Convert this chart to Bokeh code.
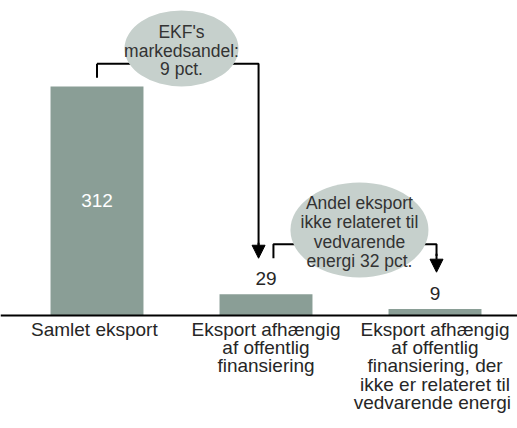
from bokeh.plotting import figure
from bokeh.models import Range1d, Span, Arrow, NormalHead, ColumnDataSource
from bokeh.core.properties import value
from bokeh.embed import file_html
from bokeh.resources import INLINE

# ---- data ----
categories = [
    "Samlet  eksport",
    "Eksport afhængig\naf offentlig\nfinansiering",
    "Eksport afhængig\naf offentlig\nfinansiering, der\nikke er relateret til\nvedvarende  energi",
]
values = [312, 29, 9]
value_labels = ["312", "29", "9"]
note_market_share = "EKF's\nmarkedsandel:\n9 pct."
note_non_renewable = "Andel eksport\nikke relateret til\nvedvarende\nenergi 32 pct."

# ---- styling ----
FONT = "Liberation Sans"
BAR_COLOR = "#8A9E96"
BUBBLE_COLOR = "#C6D0CC"
TEXT_COLOR = "#262626"

W, H = 517, 428
PX_X = 169.0     # pixels per category step
PX_Y = 0.734     # pixels per value unit
x_left = -96.5 / PX_X
x_right = x_left + W / PX_X
y_top = 315 / PX_Y
y_bottom = y_top - H / PX_Y

p = figure(width=W, height=H, output_backend="svg", toolbar_location=None,
           x_range=Range1d(x_left, x_right), y_range=Range1d(y_bottom, y_top),
           min_border=0)
p.axis.visible = False
p.grid.visible = False
p.outline_line_color = None
p.background_fill_color = "white"
p.border_fill_color = "white"

xs = list(range(len(values)))
src = ColumnDataSource(dict(x=xs, top=values, lab=value_labels, cat=categories))

p.vbar(x="x", top="top", bottom=0, width=0.55, source=src,
       fill_color=BAR_COLOR, line_color=None)

# baseline
p.add_layout(Span(location=0, dimension="width", line_color="black", line_width=2))

# value labels
p.text(x=[xs[0]], y=[values[0] / 2], text=[value_labels[0]], text_color="white",
       text_font=value(FONT), text_font_size="19px", text_align="center",
       text_baseline="middle")
p.text(x=xs[1:], y=values[1:], text=value_labels[1:], text_color=TEXT_COLOR,
       text_font=value(FONT), text_font_size="19px", text_align="center",
       text_baseline="bottom", y_offset=-9)

# category labels
p.text(x="x", y=0, text="cat", source=src, text_color=TEXT_COLOR,
       text_font=value(FONT), text_font_size="19px", text_align="center",
       text_baseline="top", text_line_height=0.88, y_offset=3)

# ---- connector 1: bar 1 -> bar 2 with bubble ----
y_h1 = values[0] + 31
p.line(x=[xs[0], xs[0]], y=[values[0] + 12, y_h1], line_color="black", line_width=2)
p.line(x=[xs[0], 0.956, 0.956], y=[y_h1, y_h1, values[1] + 66],
       line_color="black", line_width=2)
p.add_layout(Arrow(end=NormalHead(size=13, fill_color="black", line_color="black"),
                   x_start=0.956, y_start=values[1] + 70, x_end=0.956, y_end=values[1] + 49,
                   line_color="black", line_width=2))
p.ellipse(x=[0.5], y=[363.8], width=[114], height=[76], width_units="screen",
          height_units="screen", fill_color=BUBBLE_COLOR, line_color=None)
p.text(x=[0.5], y=[361], text=[note_market_share], text_color="#333333",
       text_font=value(FONT), text_font_size="17.5px", text_align="center",
       text_baseline="middle", text_line_height=0.93)

# ---- connector 2: bar 2 -> bar 3 with bubble ----
y_h2 = 97
p.line(x=[1.044, 1.044, 1.55], y=[values[1] + 49, y_h2, y_h2], line_color="black", line_width=2)
p.line(x=[1.55, 2.009, 2.009], y=[y_h2, y_h2, values[2] + 72], line_color="black", line_width=2)
p.add_layout(Arrow(end=NormalHead(size=13, fill_color="black", line_color="black"),
                   x_start=2.009, y_start=values[2] + 75, x_end=2.009, y_end=values[2] + 50,
                   line_color="black", line_width=2))
p.ellipse(x=[1.553], y=[116.5], width=[138], height=[95], width_units="screen",
          height_units="screen", fill_color=BUBBLE_COLOR, line_color=None)
p.text(x=[1.553], y=[113.8], text=[note_non_renewable], text_color="#333333",
       text_font=value(FONT), text_font_size="17.5px", text_align="center",
       text_baseline="middle", text_line_height=0.96)

open("out.html", "w").write(file_html(p, INLINE))
